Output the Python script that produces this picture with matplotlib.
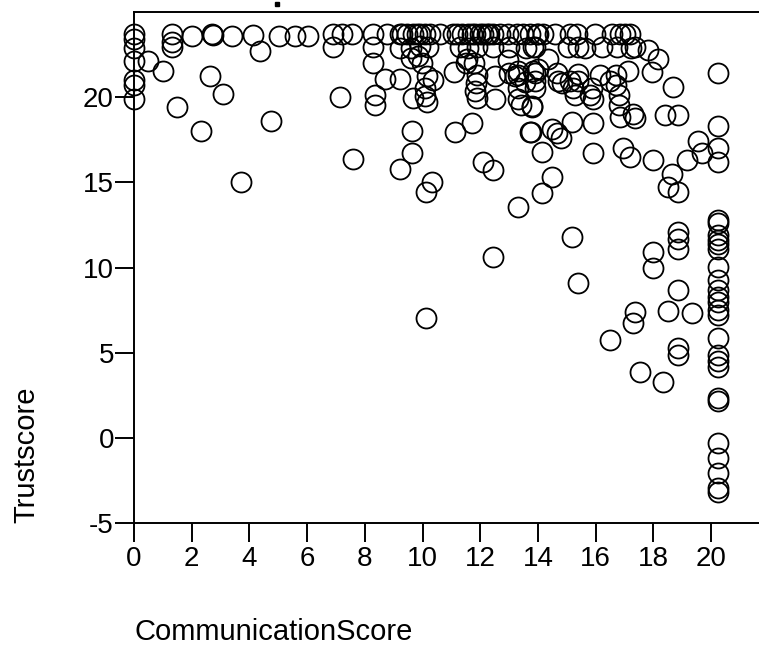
import matplotlib
matplotlib.use("Agg")
import matplotlib.pyplot as plt
from matplotlib.lines import Line2D

plt.rcParams['font.family'] = ['Liberation Sans', 'DejaVu Sans']
plt.rcParams['axes.unicode_minus'] = False

# values
comm = [
    # x = 0 column and left part
    0, 0, 0, 0, 0, 0, 0,
    0.5, 1.0, 1.33, 1.33, 1.33, 2.0, 2.69, 2.72, 3.41, 4.14, 4.37, 5.04, 5.58, 6.04,
    2.63, 3.1, 1.48, 2.32, 4.75, 3.71, 7.58,
    # around 7-8.5
    6.91, 7.2, 7.55, 8.29, 6.91, 8.29, 8.29, 7.14, 8.35, 8.35, 8.7, 9.22,
    # top row
    8.76, 9.22, 9.3, 9.45, 9.68, 9.8, 9.91, 10.1, 10.26, 10.6, 11.07, 11.2, 11.36,
    11.59, 11.7, 11.82, 12.0, 12.1, 12.22, 12.3, 12.46, 12.69, 12.98, 13.26, 13.49,
    13.73, 13.96, 14.0, 14.19, 14.6, 15.11, 15.34, 15.97, 16.56, 16.84, 17.02, 17.19,
    # second row
    9.22, 9.6, 9.9, 10.2, 11.3, 11.59, 11.88, 12.46, 13.0, 13.6, 13.84, 13.9,
    15.05, 15.4, 15.63, 16.21, 16.73, 17.24, 17.37, 17.83,
    # third rows
    9.6, 9.85, 9.97, 11.5, 11.55, 11.8, 12.95, 14.36, 18.17,
    # ~21.5 row
    11.1, 11.88, 13.0, 13.3, 13.3, 13.84, 17.13, 17.94, 20.23,
    # 19.5 - 21 band, x 9.5 - 13.8
    9.68, 10.1, 10.15, 10.08, 10.35, 10.15, 11.85, 11.82, 11.88, 12.5, 12.5, 13.2,
    13.3, 13.3, 13.4, 13.8, 13.55,
    # 19.5 - 21.7 band, x 13.8 - 17
    13.9, 13.9, 13.9, 14.0, 14.65, 14.7, 14.82, 15.1, 15.4, 15.4, 15.2, 15.3, 15.8,
    15.86, 15.9, 16.15, 16.5, 16.7, 16.7, 16.8, 16.8, 13.8,
    # 18 - 19.5 band
    16.85, 17.3, 17.35, 18.69, 18.4, 18.87, 20.23, 15.92, 15.17, 14.5, 14.65, 14.8,
    13.75, 19.56, 9.65, 11.13, 11.7, 13.73,
    # middle
    9.62, 9.22, 10.32, 10.11, 10.11, 12.1, 12.45, 14.13, 14.48, 14.13, 13.32,
    15.92, 16.96, 17.19, 18.0, 19.16, 19.68, 20.23, 20.23, 18.64, 18.52, 18.87,
    15.17, 12.45, 15.4, 18.87, 18.87, 18.87, 18.0, 18.0, 18.87, 17.37, 17.3, 18.52,
    19.33, 16.5, 18.87, 18.87, 17.54, 18.35,
    # x = 20.2 column
    20.23, 20.23, 20.23, 20.23, 20.23, 20.23, 20.23, 20.23, 20.23, 20.23, 20.23,
    20.23, 20.23, 20.23, 20.23, 20.23, 20.23, 20.23, 20.23, 20.23, 20.23, 20.23,
    20.23, 20.23,
]

trust = [
    23.7, 23.4, 22.9, 22.1, 21.0, 20.7, 19.9,
    22.1, 21.5, 23.7, 23.25, 22.95, 23.6, 23.7, 23.65, 23.6, 23.65, 22.7, 23.6, 23.6, 23.6,
    21.25, 20.15, 19.4, 18.0, 18.6, 15.0, 16.35,
    23.7, 23.7, 23.7, 23.7, 22.95, 22.95, 21.97, 20.0, 20.1, 19.5, 21.05, 21.05,
    23.7, 23.7, 23.7, 23.7, 23.7, 23.7, 23.7, 23.7, 23.7, 23.7, 23.7, 23.7, 23.7,
    23.7, 23.7, 23.7, 23.7, 23.7, 23.7, 23.7, 23.7, 23.7, 23.7, 23.7, 23.7,
    23.7, 23.7, 23.7, 23.7, 23.7, 23.7, 23.7, 23.7, 23.7, 23.7, 23.7, 23.7,
    22.9, 22.85, 23.0, 22.95, 22.95, 22.9, 22.95, 22.95, 22.95, 22.9, 22.95, 22.95,
    22.95, 22.95, 22.9, 22.95, 22.95, 22.9, 22.95, 22.75,
    22.3, 22.4, 22.0, 22.0, 22.2, 22.0, 22.15, 22.2, 22.2,
    21.45, 21.3, 21.4, 21.55, 21.3, 21.5, 21.5, 21.46, 21.4,
    19.95, 20.05, 19.7, 20.5, 21.0, 21.2, 20.8, 20.35, 19.95, 21.2, 19.9, 21.2,
    20.5, 19.9, 19.55, 19.4, 20.9,
    21.4, 20.95, 20.5, 21.66, 21.4, 20.95, 20.8, 20.95, 21.35, 20.95, 20.5, 20.1, 20.1,
    20.5, 19.9, 21.3, 20.95, 21.3, 20.7, 20.1, 19.55, 19.45,
    18.85, 19.0, 18.75, 20.6, 18.95, 18.95, 18.27, 18.46, 18.56, 18.1, 17.9, 17.6,
    17.97, 17.4, 18.0, 17.97, 18.46, 17.97,
    16.7, 15.75, 15.0, 14.4, 7.05, 16.2, 15.7, 16.8, 15.3, 14.34, 13.56,
    16.7, 16.98, 16.5, 16.3, 16.3, 16.7, 16.98, 16.2, 15.5, 14.73, 14.43,
    11.8, 10.63, 9.1, 12.1, 11.7, 11.1, 10.9, 9.95, 8.68, 7.41, 6.72, 7.46,
    7.35, 5.75, 5.26, 4.87, 3.9, 3.3,
    12.8, 12.6, 11.9, 11.6, 11.4, 11.1, 10.04, 9.26, 8.7, 8.3, 8.0,
    7.5, 7.2, 5.85, 4.87, 4.5, 4.18, 2.33, 2.2, -0.3, -1.18, -2.06,
    -2.94, -3.14,
]

x_ticks = list(range(0, 21, 2))
y_ticks = [-5, 0, 5, 10, 15, 20]

fig = plt.figure(figsize=(7.59, 6.46), dpi=100)
ax = fig.add_axes([0.1766, 0.1899, 0.8362, 0.7920])

ax.plot(comm, trust, 'o', ms=14.4, mfc='none', mec='black', mew=1.3, clip_on=False)

ax.set_xlim(0, 22)
ax.set_ylim(-5, 25)
ax.set_xticks(x_ticks)
ax.set_yticks(y_ticks)
ax.tick_params(direction='out', length=13.5, width=1.4, labelsize=20, color='black')
ax.tick_params(axis='x', pad=3)
ax.tick_params(axis='y', pad=1)
for s in ['left', 'bottom', 'top']:
    ax.spines[s].set_linewidth(1.4)
ax.spines['right'].set_visible(False)

fig.text(135 / 759, 1 - 632 / 646, 'CommunicationScore', fontsize=21, ha='left', va='center')
fig.text(26 / 759, 1 - 523 / 646, 'Trustscore', fontsize=21, rotation=90, ha='center', va='bottom')

# leftover dot of a cropped title at the top edge
fig.add_artist(Line2D([277 / 759], [1 - 4 / 646], marker='s', ms=3, color='black',
                      transform=fig.transFigure))

fig.savefig('out.png', dpi=100)
